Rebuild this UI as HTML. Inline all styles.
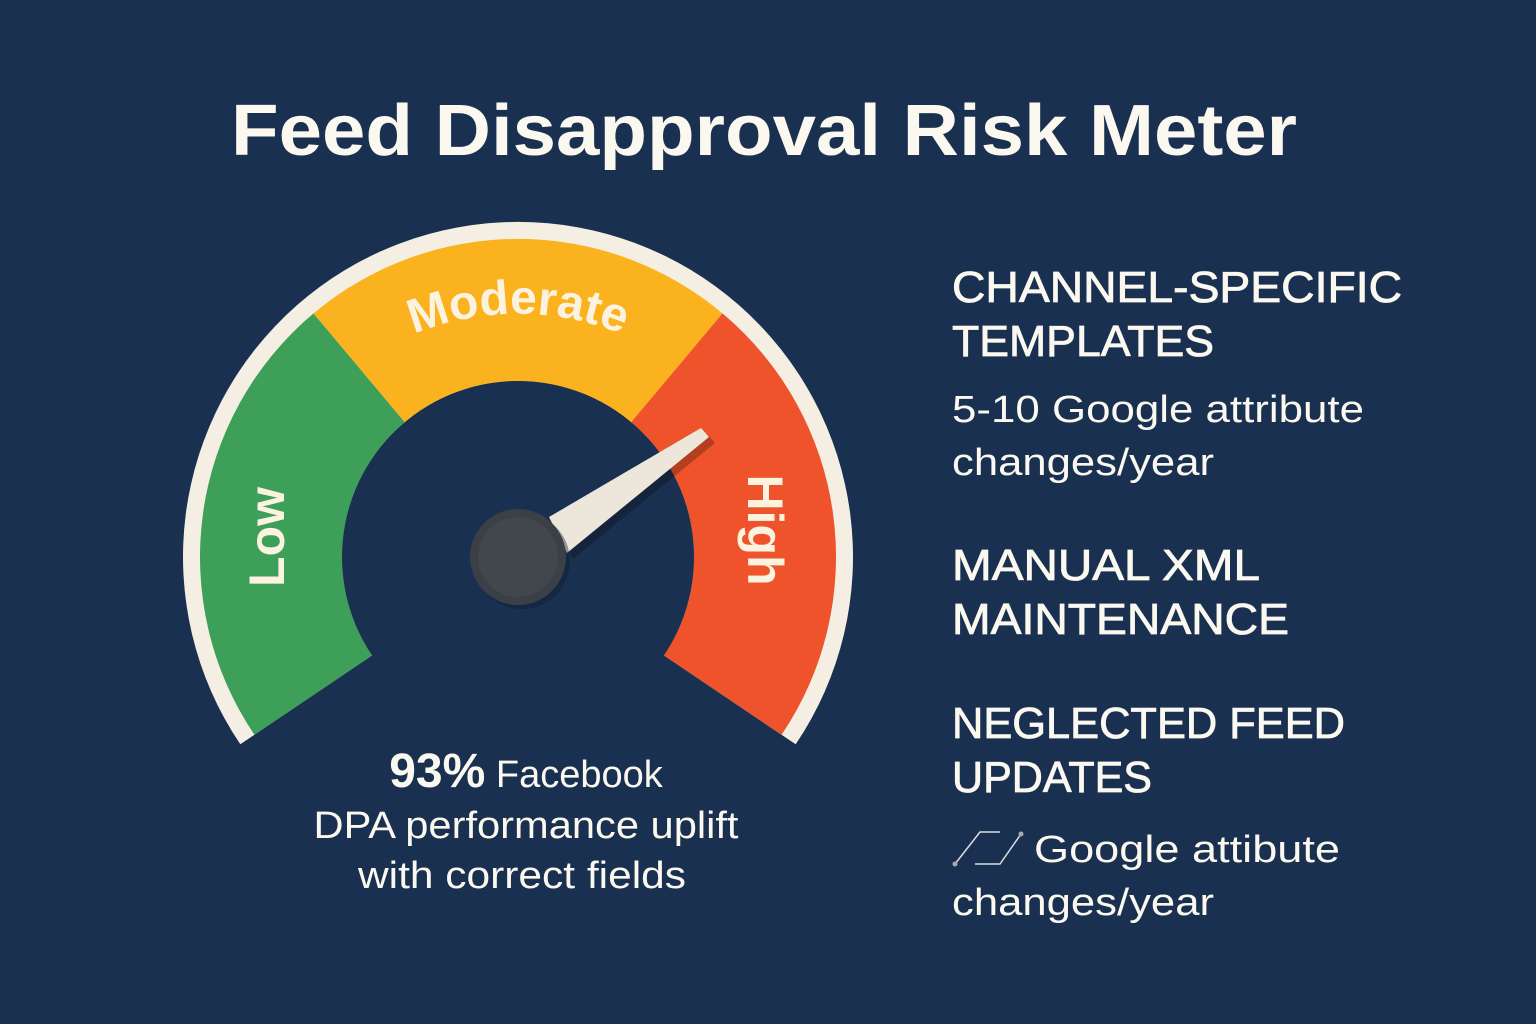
<!DOCTYPE html>
<html><head><meta charset="utf-8"><style>
html,body{margin:0;padding:0;background:#1a3050;}
svg{display:block;}
text{font-family:"Liberation Sans",sans-serif;}
</style></head><body>
<svg width="1536" height="1024" viewBox="0 0 1536 1024">
<rect width="1536" height="1024" fill="#1a3050"/>
<text x="764" y="155" text-anchor="middle" font-size="72" font-weight="bold" fill="#fbf8f0" textLength="1066" lengthAdjust="spacingAndGlyphs">Feed Disapproval Risk Meter</text>
<!-- cream ring -->
<path d="M240.3,744.3 A335,335 0 1 1 795.7,744.3 L663.9,655.4 A176,176 0 1 0 372.1,655.4 Z" fill="#f4efe2"/>
<path d="M254.4,734.8 A318,318 0 0 1 313.5,313.4 L404.8,422.2 A176,176 0 0 0 372.1,655.4 Z" fill="#3d9f58"/>
<path d="M313.5,313.4 A318,318 0 0 1 722.5,313.4 L631.2,422.2 A176,176 0 0 0 404.8,422.2 Z" fill="#fbb21f"/>
<path d="M722.5,313.4 A318,318 0 0 1 781.6,734.8 L663.9,655.4 A176,176 0 0 0 631.2,422.2 Z" fill="#ef532b"/>
<circle cx="518" cy="557" r="176" fill="#1a3050"/>
<defs><path id="arcM" d="M318,400 A275,275 0 0 1 718,400"/></defs>
<text font-size="48" font-weight="bold" fill="#fbf3e0"><textPath href="#arcM" startOffset="50%" text-anchor="middle">Moderate</textPath></text>
<text transform="translate(284,537) rotate(-90)" text-anchor="middle" font-size="50" font-weight="bold" fill="#fbf3e0">Low</text>
<text transform="translate(748,530) rotate(90)" text-anchor="middle" font-size="50" font-weight="bold" fill="#fbf3e0">High</text>
<!-- needle -->
<polygon points="549,517 567,553 709,437 701,428" fill="#000" opacity="0.25" transform="translate(6,6)"/>
<polygon points="549,517 567,553 709,437 701,428" fill="#ece7da"/>
<circle cx="522" cy="561" r="48" fill="#0f1c2c" opacity="0.4"/>
<circle cx="518" cy="557" r="48" fill="#3b4047"/>
<circle cx="518" cy="557" r="40" fill="#42474e"/>
<!-- bottom text -->
<text x="526" y="787" text-anchor="middle" font-size="38" fill="#fbf8f0"><tspan font-weight="bold" font-size="48">93%</tspan> Facebook</text>
<text x="526" y="838" text-anchor="middle" font-size="38" fill="#fbf8f0" textLength="425" lengthAdjust="spacingAndGlyphs">DPA performance uplift</text>
<text x="522" y="888" text-anchor="middle" font-size="38" fill="#fbf8f0" textLength="328" lengthAdjust="spacingAndGlyphs">with correct fields</text>
<!-- right text -->
<g fill="#fbf8f0">
<g stroke="#fbf8f0" stroke-width="0.8">
<text x="952" y="302" font-size="44" textLength="450" lengthAdjust="spacingAndGlyphs">CHANNEL-SPECIFIC</text>
<text x="952" y="356" font-size="44" textLength="262" lengthAdjust="spacingAndGlyphs">TEMPLATES</text>
<text x="952" y="580" font-size="44" textLength="308" lengthAdjust="spacingAndGlyphs">MANUAL XML</text>
<text x="952" y="634" font-size="44" textLength="337" lengthAdjust="spacingAndGlyphs">MAINTENANCE</text>
<text x="952" y="738" font-size="44" textLength="393" lengthAdjust="spacingAndGlyphs">NEGLECTED FEED</text>
<text x="952" y="792" font-size="44" textLength="200" lengthAdjust="spacingAndGlyphs">UPDATES</text>
</g>
<text x="952" y="422" font-size="38" textLength="412" lengthAdjust="spacingAndGlyphs">5-10 Google attribute</text>
<text x="952" y="475" font-size="38" textLength="262" lengthAdjust="spacingAndGlyphs">changes/year</text>
<text x="1034" y="862" font-size="38" textLength="306" lengthAdjust="spacingAndGlyphs">Google attibute</text>
<text x="952" y="915" font-size="38" textLength="262" lengthAdjust="spacingAndGlyphs">changes/year</text>
</g>
<g stroke="#ddd" stroke-width="1.5" fill="none">
<path d="M955,864 L980,832 L1000,832 M975,864 L1000,864 L1021,834"/>
</g>
<circle cx="955" cy="864" r="2.5" fill="#aaa"/><circle cx="1021" cy="834" r="2.5" fill="#aaa"/>
</svg>
</body></html>
